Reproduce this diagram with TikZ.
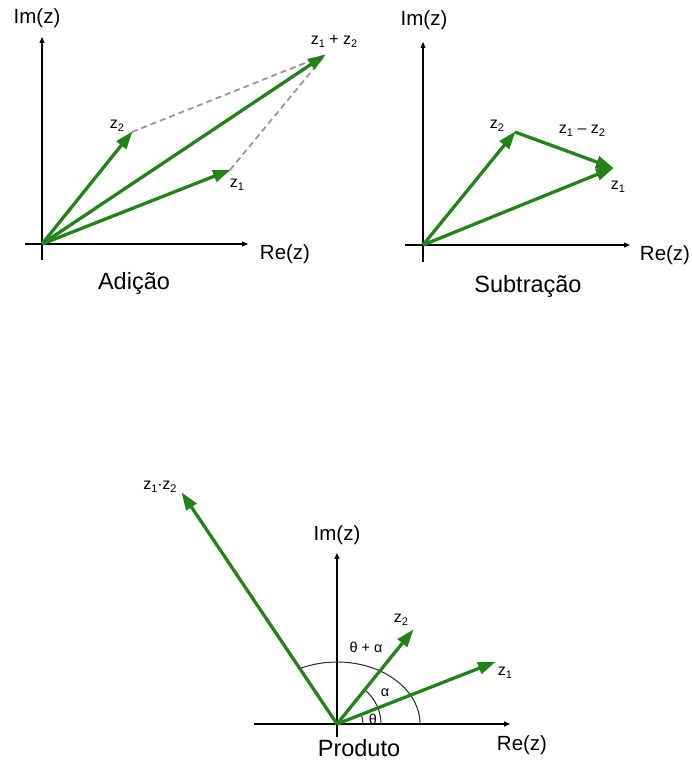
\documentclass[tikz,border=0pt]{standalone}
\usepackage{fontspec}
\setmainfont{Liberation Sans}
\usetikzlibrary{arrows.meta}
\definecolor{vecgreen}{RGB}{36,130,26}
\definecolor{dashgray}{RGB}{150,150,150}
\newcommand{\zs}[1]{z\raisebox{-0.35ex}{\fontsize{11}{12}\selectfont #1}}
\tikzset{
  axis/.style={line width=1.1pt, -{Triangle[length=6pt,width=5pt]}},
  vec/.style={line width=3.3pt, vecgreen, -{Triangle[length=18pt,width=12pt]}, shorten >=-1pt},
  aux/.style={line width=1.8pt, dashgray, dash pattern=on 6pt off 4pt},
  axlbl/.style={font=\fontsize{20.5}{24}\selectfont, inner sep=0pt},
  ttl/.style={font=\fontsize{23.5}{28}\selectfont, inner sep=0pt},
  vlbl/.style={font=\fontsize{16}{18}\selectfont, inner sep=0pt},
  anglbl/.style={font=\fontsize{14.5}{16}\selectfont, inner sep=0pt},
  arcline/.style={line width=1pt, black!85}
}
\begin{document}
\begin{tikzpicture}[x=1pt,y=1pt]
\useasboundingbox (0,0) rectangle (692,760);
% ---------- Adicao ----------
\coordinate (a0) at (42,516);
\coordinate (axl) at (25,516);
\coordinate (axr) at (248,516);
\coordinate (ayb) at (42,500);
\coordinate (ayt) at (42,723);
\coordinate (az2) at (132,628);
\coordinate (az1) at (230,590);
\coordinate (asum) at (325,705);
\draw[axis] (axl) -- (axr);
\draw[axis] (ayb) -- (ayt);
\draw[aux] (az2) -- (asum);
\draw[aux] (az1) -- (asum);
\draw[vec] (a0) -- (az2);
\draw[vec] (a0) -- (az1);
\draw[vec] (a0) -- (asum);
\node[axlbl] (aim) at (37,742) {Im(z)};
\node[axlbl] (are) at (285,506) {Re(z)};
\node[ttl] (atit) at (134,477) {Adição};
\node[vlbl] (alz2) at (117,634) {\zs{2}};
\node[vlbl] (alz1) at (237,575) {\zs{1}};
\node[vlbl] (alsum) at (334,719) {\zs{1} + \zs{2}};
% ---------- Subtracao ----------
\coordinate (s0) at (423,515);
\coordinate (sxl) at (405,515);
\coordinate (sxr) at (630,515);
\coordinate (syb) at (423,498);
\coordinate (syt) at (423,718);
\coordinate (sz2) at (515,628);
\coordinate (sz1) at (613,592);
\draw[axis] (sxl) -- (sxr);
\draw[axis] (syb) -- (syt);
\draw[vec] (s0) -- (sz2);
\draw[vec] (s0) -- (sz1);
\draw[vec] (sz2) -- (sz1);
\node[axlbl] (sim) at (424,740) {Im(z)};
\node[axlbl] (sre) at (665,505) {Re(z)};
\node[ttl] (stit) at (528,474) {Subtração};
\node[vlbl] (slz2) at (497,634) {\zs{2}};
\node[vlbl] (slz1) at (618,573) {\zs{1}};
\node[vlbl] (sldiff) at (582,629) {\zs{1} – \zs{2}};
% ---------- Produto ----------
\coordinate (p0) at (337,36);
\coordinate (pxl) at (254,36);
\coordinate (pxr) at (510,36);
\coordinate (pyb) at (337,23);
\coordinate (pyt) at (337,207);
\coordinate (pz1) at (495,98);
\coordinate (pz2) at (413,130);
\coordinate (pprod) at (182,267);
\draw[axis] (pxl) -- (pxr);
\draw[axis] (pyb) -- (pyt);
\draw[arcline] (420,36) arc[start angle=0, end angle=116.6, x radius=83, y radius=62];
\draw[arcline] (381,36) arc[start angle=0, end angle=51, radius=44];
\draw[arcline] (363,36) arc[start angle=0, end angle=21.4, radius=26];
\draw[vec] (p0) -- (pprod);
\draw[vec] (p0) -- (pz2);
\draw[vec] (p0) -- (pz1);
\node[axlbl] (pim) at (337,225) {Im(z)};
\node[axlbl] (pre) at (522,15) {Re(z)};
\node[ttl] (ptit) at (359,12) {Produto};
\node[vlbl] (plprod) at (160,273) {\zs{1}$\cdot$\zs{2}};
\node[vlbl] (plz2) at (401,140) {\zs{2}};
\node[vlbl] (plz1) at (505,87) {\zs{1}};
\node[anglbl] (pth) at (373,41) {θ};
\node[anglbl] (pal) at (385,67) {α};
\node[anglbl] (pthal) at (366,113) {θ + α};
\end{tikzpicture}
\end{document}
